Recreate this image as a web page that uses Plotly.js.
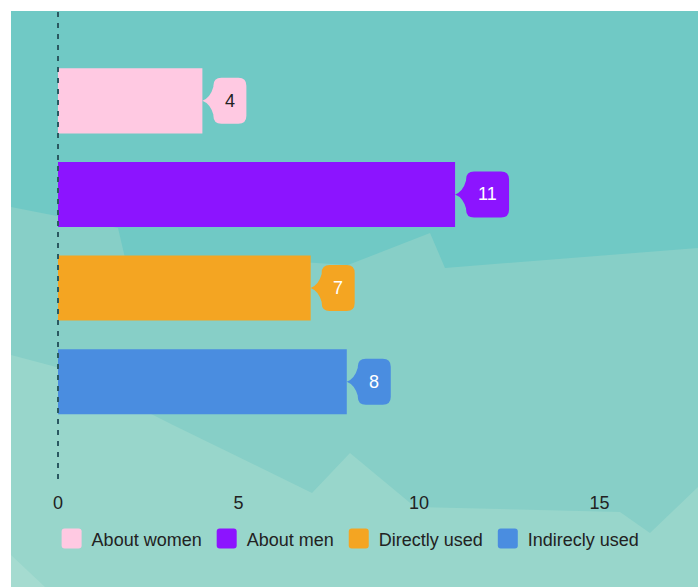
<!DOCTYPE html>
<html>
<head>
<meta charset="utf-8">
<script src="https://cdn.plot.ly/plotly-3.0.1.min.js"></script>
<style>
  html, body { margin: 0; padding: 0; background: #ffffff; }
  #chart { position: absolute; left: 11px; top: 11px; width: 687px; height: 576px; }
</style>
</head>
<body>
<div id="chart"></div>
<script>
// Counts per category
const categories = ['About women', 'About men', 'Directly used', 'Indirecly used'];
const counts = [4, 11, 7, 8];
const xTicks = [0, 5, 10, 15];

// Styling
const barColors = ['#FFC9E2', '#8C14FF', '#F4A522', '#4A8DE0'];
const labelColors = ['#222222', '#ffffff', '#ffffff', '#ffffff'];
const FONT = 'Liberation Sans, Arial, Helvetica, sans-serif';

const W = 687, H = 576;
const M = { l: 45, r: 0, t: 0, b: 108 };
const plotW = W - M.l - M.r, plotH = H - M.t - M.b;

// Decorative low-poly backdrop, given in page pixels
function toPaper(p) {
  const x = p[0] - 11, y = p[1] - 11;
  return [((x - M.l) / plotW).toFixed(4), ((plotH - (y - M.t)) / plotH).toFixed(4)];
}
function polyPath(pts) {
  return 'M' + pts.map(p => toPaper(p).join(',')).join('L') + 'Z';
}
const backdrop = [
  { color: '#87CFC7', pts: [[11,207],[118,228],[125,258],[300,262],[348,265],[430,233],[445,268],[698,248],[698,587],[11,587]] },
  { color: '#98D6CB', pts: [[11,355],[60,368],[173,425],[312,493],[350,453],[415,507],[620,512],[650,533],[698,487],[698,587],[11,587]] },
  { color: '#A5DBD0', pts: [[11,555],[45,587],[11,587]] }
];

const shapes = backdrop.map(b => ({
  type: 'path', xref: 'paper', yref: 'paper', layer: 'below',
  path: polyPath(b.pts), fillcolor: b.color, line: { width: 0 }
}));

// Dashed baseline at zero
shapes.push({
  type: 'line', xref: 'x', yref: 'paper', x0: 0, x1: 0, y0: 0, y1: 1,
  layer: 'above', line: { color: '#2A5861', width: 2, dash: '5px,6px' }
});

// Speech-bubble value labels
function calloutPath(w) {
  const bx = 11, h = 23, r = 8, a = 14;
  const R = bx + w;
  return 'M0,0 Q8,3 ' + bx + ',' + a +
    ' V' + (h - r) + ' Q' + bx + ',' + h + ' ' + (bx + r) + ',' + h +
    ' H' + (R - r) + ' Q' + R + ',' + h + ' ' + R + ',' + (h - r) +
    ' V' + (-(h - r)) + ' Q' + R + ',' + (-h) + ' ' + (R - r) + ',' + (-h) +
    ' H' + (bx + r) + ' Q' + bx + ',' + (-h) + ' ' + bx + ',' + (-(h - r)) +
    ' V' + (-a) + ' Q8,-3 0,0 Z';
}

const annotations = [];
categories.forEach((c, i) => {
  const txt = String(counts[i]);
  const w = 23 + 10 * txt.length;
  shapes.push({
    type: 'path', xref: 'x', yref: 'y',
    xsizemode: 'pixel', ysizemode: 'pixel',
    xanchor: counts[i], yanchor: c,
    path: calloutPath(w), fillcolor: barColors[i], line: { width: 0 }, layer: 'above'
  });
  annotations.push({
    x: counts[i], y: c, xref: 'x', yref: 'y', text: txt, showarrow: false,
    xshift: 11 + w / 2, font: { family: FONT, size: 18, color: labelColors[i] }
  });
});

const traces = categories.map((c, i) => ({
  type: 'bar', orientation: 'h', name: c,
  x: [counts[i]], y: [c],
  marker: { color: barColors[i], line: { width: 0 } },
  hoverinfo: 'x+name'
}));

const layout = {
  width: W, height: H,
  margin: M,
  paper_bgcolor: '#70C9C5',
  plot_bgcolor: 'rgba(0,0,0,0)',
  barmode: 'overlay',
  bargap: 0.305,
  font: { family: FONT, size: 18, color: '#222222' },
  xaxis: {
    range: [-0.0554, 17.73], tickvals: xTicks, ticktext: xTicks.map(String),
    showgrid: false, zeroline: false, showline: false,
    ticks: 'outside', ticklen: 7, tickcolor: 'rgba(0,0,0,0)',
    tickfont: { family: FONT, size: 18, color: '#222222' }
  },
  yaxis: {
    type: 'category', categoryorder: 'array', categoryarray: categories,
    range: [4.04, -0.96], showticklabels: false,
    showgrid: false, zeroline: false, showline: false, ticks: ''
  },
  showlegend: true,
  legend: {
    orientation: 'h', x: 0.455, xanchor: 'center', y: -0.128, yanchor: 'middle',
    bgcolor: 'rgba(0,0,0,0)', font: { family: FONT, size: 18, color: '#222222' },
    traceorder: 'normal'
  },
  shapes: shapes,
  annotations: annotations
};

Plotly.newPlot('chart', traces, layout, { displayModeBar: false, staticPlot: true }).then(gd => {
  // larger rounded legend swatches
  gd.querySelectorAll('.legendpoints path').forEach(p => {
    p.setAttribute('d', 'M-7,-10H7Q10,-10 10,-7V7Q10,10 7,10H-7Q-10,10 -10,7V-7Q-10,-10 -7,-10Z');
  });
});
</script>
</body>
</html>
